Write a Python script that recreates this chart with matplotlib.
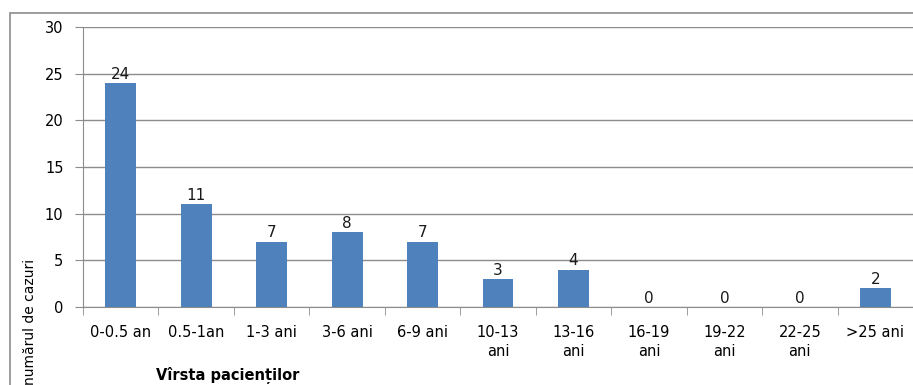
import matplotlib
matplotlib.use("Agg")
import matplotlib.pyplot as plt
from matplotlib.patches import Rectangle
import numpy as np

categories = ["0-0.5 an", "0.5-1an", "1-3 ani", "3-6 ani", "6-9 ani", "10-13\nani",
              "13-16\nani", "16-19\nani", "19-22\nani", "22-25\nani", ">25 ani"]
values = [24, 11, 7, 8, 7, 3, 4, 0, 0, 0, 2]
y_ticks = [0, 5, 10, 15, 20, 25, 30]

plt.rcParams["font.family"] = ["DejaVu Sans"]
fig = plt.figure(figsize=(9.13, 3.85), dpi=100)
ax = fig.add_axes([83 / 913, 1 - 307 / 385, 1 - 83 / 913, (307 - 27) / 385])

x = np.arange(len(categories))
ax.bar(x, values, width=0.41, color="#4F81BD", zorder=3)
for xi, v in zip(x, values):
    ax.text(xi, v + 0.15, str(v), ha="center", va="bottom", fontsize=11, color="#1a1a1a")

ax.set_xlim(-0.5, len(categories) - 0.5)
ax.set_ylim(0, 30)
ax.set_yticks(y_ticks)
ax.set_yticklabels([str(t) for t in y_ticks], fontsize=10.5)
ax.yaxis.grid(True, color="#8c8c8c", linewidth=1.0, zorder=0)
ax.set_axisbelow(True)

ax.set_xticks(x)
ax.set_xticklabels(categories, fontsize=10.5, linespacing=1.35)
ax.set_xticks(np.arange(len(categories) + 1) - 0.5, minor=True)
ax.tick_params(axis="x", which="major", length=0, pad=13)
ax.tick_params(axis="x", which="minor", length=6, color="#8c8c8c")
ax.tick_params(axis="y", length=6, color="#8c8c8c", pad=8)
for lbl in ax.get_xticklabels():
    lbl.set_verticalalignment("top")

for side in ("top", "right"):
    ax.spines[side].set_visible(False)
for side in ("left", "bottom"):
    ax.spines[side].set_color("#8c8c8c")

fig.text(30 / 913, 1 - 322 / 385, "numărul de cazuri", rotation=90,
         ha="center", va="center", fontsize=10)
fig.text(228 / 913, 1 - 376 / 385, "Vîrsta pacienților", ha="center", va="center",
         fontsize=10.5, fontweight="bold")

# outer frame of the chart area
fig.add_artist(Rectangle((10 / 913, -0.1), 2.0, 1 - 13 / 385 + 0.1,
                         transform=fig.transFigure, fill=False,
                         edgecolor="#8c8c8c", linewidth=1.2))

fig.savefig("out.png", dpi=100)
